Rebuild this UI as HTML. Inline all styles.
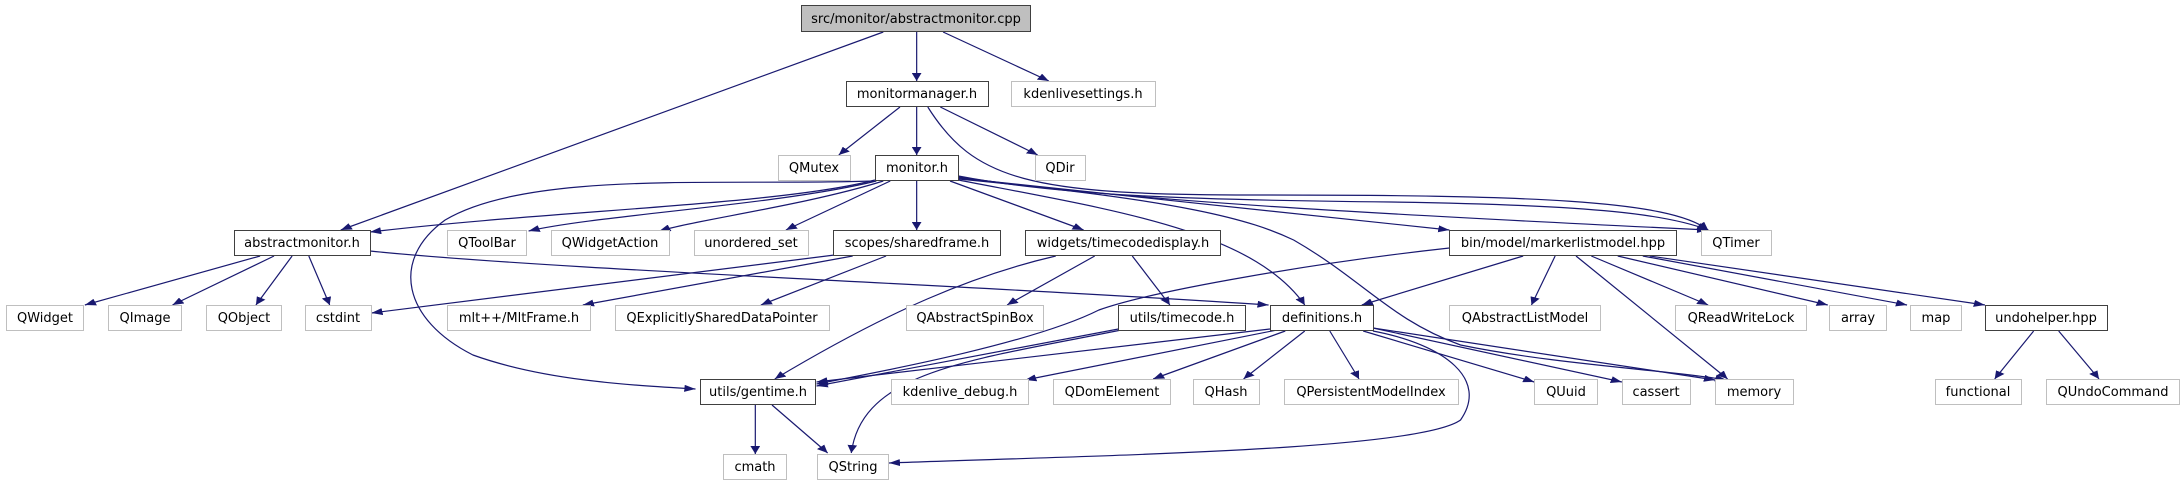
<!DOCTYPE html>
<html><head><meta charset="utf-8"><style>
html,body{margin:0;padding:0;background:#fff;}
svg{display:block}
text{font-family:"DejaVu Sans","Liberation Sans",sans-serif;font-size:13px;fill:#000;text-anchor:middle}
</style></head><body>
<svg width="2181" height="485" viewBox="0 0 2181 485" xmlns="http://www.w3.org/2000/svg">
<defs>
<marker id="a" markerUnits="userSpaceOnUse" markerWidth="8" markerHeight="7" refX="8" refY="3.5" orient="auto">
<path d="M0,0 L8,3.5 L0,7 z" fill="#191970"/>
</marker>
</defs>
<g transform="scale(1.391,1)" fill="none" stroke="#191970" stroke-width="1.2" marker-end="url(#a)">
<path vector-effect="non-scaling-stroke" d="M659,32 L659,81"/>
<path vector-effect="non-scaling-stroke" d="M678,32 L754,81"/>
<path vector-effect="non-scaling-stroke" d="M635,32 L245,230"/>
<path vector-effect="non-scaling-stroke" d="M647,107 L603,155"/>
<path vector-effect="non-scaling-stroke" d="M659,107 L659,155"/>
<path vector-effect="non-scaling-stroke" d="M676,107 L746,155"/>
<path vector-effect="non-scaling-stroke" d="M667,107 C700,180 740,195 900,195 C1100,195 1200,200 1228,230"/>
<path vector-effect="non-scaling-stroke" d="M629,180 C560,205 400,210 266,232"/>
<path vector-effect="non-scaling-stroke" d="M630,181 C560,205 430,215 380,231"/>
<path vector-effect="non-scaling-stroke" d="M635,181 C580,205 500,220 474,231"/>
<path vector-effect="non-scaling-stroke" d="M640,181 L565,230"/>
<path vector-effect="non-scaling-stroke" d="M659,181 L659,230"/>
<path vector-effect="non-scaling-stroke" d="M683,181 L779,230"/>
<path vector-effect="non-scaling-stroke" d="M628,181 C520,186 380,170 320,220 C280,260 290,320 340,355 C390,380 450,385 500,389"/>
<path vector-effect="non-scaling-stroke" d="M689,180 C800,210 900,230 938,305"/>
<path vector-effect="non-scaling-stroke" d="M689,179 C850,200 900,220 930,240 C980,280 1000,320 1050,345 C1120,365 1200,370 1241,380"/>
<path vector-effect="non-scaling-stroke" d="M689,178 L1042,230"/>
<path vector-effect="non-scaling-stroke" d="M689,177 C800,200 1000,215 1228,230"/>
<path vector-effect="non-scaling-stroke" d="M689,176 C760,195 850,200 1000,202 C1150,205 1200,215 1228,230"/>
<path vector-effect="non-scaling-stroke" d="M187,256 L61,305"/>
<path vector-effect="non-scaling-stroke" d="M197,256 L124,305"/>
<path vector-effect="non-scaling-stroke" d="M210,256 L184,305"/>
<path vector-effect="non-scaling-stroke" d="M222,256 L237,305"/>
<path vector-effect="non-scaling-stroke" d="M266,251 C400,270 700,285 912,305"/>
<path vector-effect="non-scaling-stroke" d="M600,255 L267,313"/>
<path vector-effect="non-scaling-stroke" d="M613,256 L419,305"/>
<path vector-effect="non-scaling-stroke" d="M637,256 L547,305"/>
<path vector-effect="non-scaling-stroke" d="M787,256 L724,305"/>
<path vector-effect="non-scaling-stroke" d="M814,256 L841,305"/>
<path vector-effect="non-scaling-stroke" d="M759,256 C700,275 640,310 557,379"/>
<path vector-effect="non-scaling-stroke" d="M1042,248 C950,262 830,290 790,310 C740,345 620,375 587,384"/>
<path vector-effect="non-scaling-stroke" d="M1095,256 L979,305"/>
<path vector-effect="non-scaling-stroke" d="M1118,256 L1101,305"/>
<path vector-effect="non-scaling-stroke" d="M1133,256 L1242,379"/>
<path vector-effect="non-scaling-stroke" d="M1144,256 L1228,305"/>
<path vector-effect="non-scaling-stroke" d="M1163,256 L1314,305"/>
<path vector-effect="non-scaling-stroke" d="M1181,256 L1371,305"/>
<path vector-effect="non-scaling-stroke" d="M1186,256 L1427,305"/>
<path vector-effect="non-scaling-stroke" d="M1462,331 L1434,379"/>
<path vector-effect="non-scaling-stroke" d="M1480,331 L1509,379"/>
<path vector-effect="non-scaling-stroke" d="M804,329 L587,386"/>
<path vector-effect="non-scaling-stroke" d="M913,329 L587,382"/>
<path vector-effect="non-scaling-stroke" d="M918,330 L737,380"/>
<path vector-effect="non-scaling-stroke" d="M924,331 L829,379"/>
<path vector-effect="non-scaling-stroke" d="M938,331 L894,379"/>
<path vector-effect="non-scaling-stroke" d="M956,331 L977,379"/>
<path vector-effect="non-scaling-stroke" d="M980,331 L1103,382"/>
<path vector-effect="non-scaling-stroke" d="M987,328 L1166,382"/>
<path vector-effect="non-scaling-stroke" d="M987,328 L1233,380"/>
<path vector-effect="non-scaling-stroke" d="M987,331 C1040,345 1070,380 1050,420 C1020,450 800,455 639,463"/>
<path vector-effect="non-scaling-stroke" d="M555,405 L595,453"/>
<path vector-effect="non-scaling-stroke" d="M543,405 L543,454"/>
<path vector-effect="non-scaling-stroke" d="M806,330 C700,360 620,370 612,453"/>
</g>
<g stroke-width="1">
<rect x="801.5" y="5.5" width="229" height="26" fill="#bfbfbf" stroke="#404040"/>
<g fill="#fff" stroke="#404040">
<rect x="846.5" y="81.5" width="142" height="25"/>
<rect x="875.5" y="155.5" width="83" height="25"/>
<rect x="234.5" y="230.5" width="136" height="25"/>
<rect x="833.5" y="230.5" width="167" height="25"/>
<rect x="1025.5" y="230.5" width="195" height="25"/>
<rect x="1449.5" y="230.5" width="227" height="25"/>
<rect x="1118.5" y="305.5" width="127" height="25"/>
<rect x="1270.5" y="305.5" width="103" height="25"/>
<rect x="1985.5" y="305.5" width="122" height="25"/>
<rect x="700.5" y="379.5" width="115" height="25"/>
</g>
<g fill="#fff" stroke="#bfbfbf">
<rect x="1011.5" y="81.5" width="144" height="25"/>
<rect x="778.5" y="155.5" width="72" height="25"/>
<rect x="1035.5" y="155.5" width="50" height="25"/>
<rect x="447.5" y="230.5" width="79" height="25"/>
<rect x="551.5" y="230.5" width="118" height="25"/>
<rect x="694.5" y="230.5" width="114" height="25"/>
<rect x="1701.5" y="230.5" width="70" height="25"/>
<rect x="6.5" y="305.5" width="77" height="25"/>
<rect x="108.5" y="305.5" width="73" height="25"/>
<rect x="206.5" y="305.5" width="75" height="25"/>
<rect x="305.5" y="305.5" width="66" height="25"/>
<rect x="447.5" y="305.5" width="143" height="25"/>
<rect x="615.5" y="305.5" width="214" height="25"/>
<rect x="906.5" y="305.5" width="137" height="25"/>
<rect x="1449.5" y="305.5" width="151" height="25"/>
<rect x="1675.5" y="305.5" width="131" height="25"/>
<rect x="1829.5" y="305.5" width="57" height="25"/>
<rect x="1910.5" y="305.5" width="51" height="25"/>
<rect x="891.5" y="379.5" width="137" height="25"/>
<rect x="1053.5" y="379.5" width="117" height="25"/>
<rect x="1193.5" y="379.5" width="66" height="25"/>
<rect x="1284.5" y="379.5" width="174" height="25"/>
<rect x="1534.5" y="379.5" width="63" height="25"/>
<rect x="1622.5" y="379.5" width="68" height="25"/>
<rect x="1715.5" y="379.5" width="78" height="25"/>
<rect x="1935.5" y="379.5" width="86" height="25"/>
<rect x="2046.5" y="379.5" width="133" height="25"/>
<rect x="723.5" y="454.5" width="63" height="25"/>
<rect x="817.5" y="454.5" width="71" height="25"/>
</g>
</g>
<text x="916" y="23">src/monitor/abstractmonitor.cpp</text>
<text x="917" y="98">monitormanager.h</text>
<text x="1083" y="98">kdenlivesettings.h</text>
<text x="814" y="172">QMutex</text>
<text x="917" y="172">monitor.h</text>
<text x="1060" y="172">QDir</text>
<text x="302" y="247">abstractmonitor.h</text>
<text x="487" y="247">QToolBar</text>
<text x="610" y="247">QWidgetAction</text>
<text x="751" y="247">unordered_set</text>
<text x="917" y="247">scopes/sharedframe.h</text>
<text x="1123" y="247">widgets/timecodedisplay.h</text>
<text x="1563" y="247">bin/model/markerlistmodel.hpp</text>
<text x="1736" y="247">QTimer</text>
<text x="45" y="322">QWidget</text>
<text x="145" y="322">QImage</text>
<text x="244" y="322">QObject</text>
<text x="338" y="322">cstdint</text>
<text x="519" y="322">mlt++/MltFrame.h</text>
<text x="722" y="322">QExplicitlySharedDataPointer</text>
<text x="975" y="322">QAbstractSpinBox</text>
<text x="1182" y="322">utils/timecode.h</text>
<text x="1322" y="322">definitions.h</text>
<text x="1525" y="322">QAbstractListModel</text>
<text x="1741" y="322">QReadWriteLock</text>
<text x="1858" y="322">array</text>
<text x="1936" y="322">map</text>
<text x="2046" y="322">undohelper.hpp</text>
<text x="758" y="396">utils/gentime.h</text>
<text x="960" y="396">kdenlive_debug.h</text>
<text x="1112" y="396">QDomElement</text>
<text x="1226" y="396">QHash</text>
<text x="1371" y="396">QPersistentModelIndex</text>
<text x="1566" y="396">QUuid</text>
<text x="1656" y="396">cassert</text>
<text x="1754" y="396">memory</text>
<text x="1978" y="396">functional</text>
<text x="2113" y="396">QUndoCommand</text>
<text x="755" y="471">cmath</text>
<text x="853" y="471">QString</text>
</svg>
</body></html>
